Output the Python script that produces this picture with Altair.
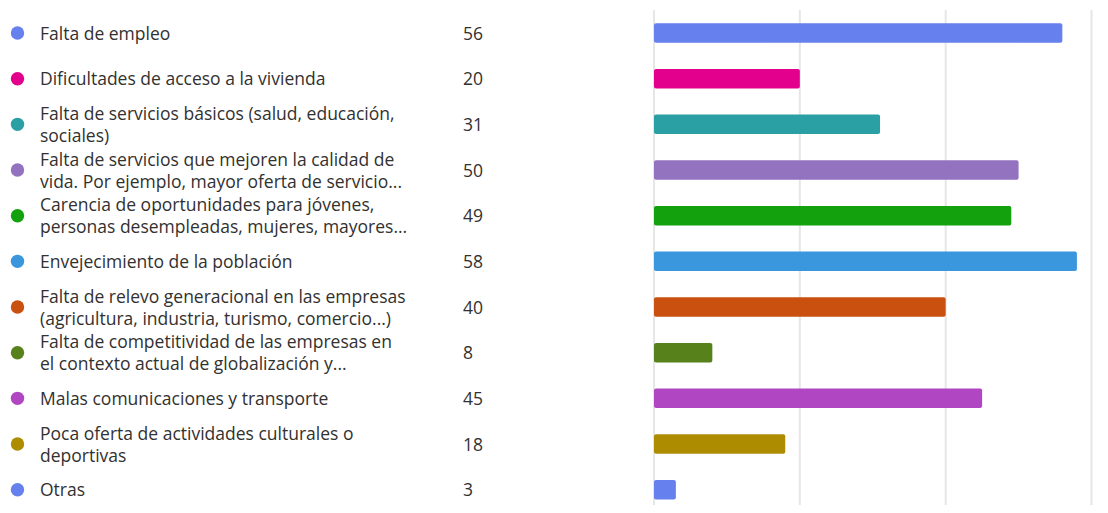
import altair as alt
import pandas as pd

labels = [
    "Falta de empleo",
    "Dificultades de acceso a la vivienda",
    "Falta de servicios básicos (salud, educación,\nsociales)",
    "Falta de servicios que mejoren la calidad de\nvida. Por ejemplo, mayor oferta de servicio...",
    "Carencia de oportunidades para jóvenes,\npersonas desempleadas, mujeres, mayores...",
    "Envejecimiento de la población",
    "Falta de relevo generacional en las empresas\n(agricultura, industria, turismo, comercio...)",
    "Falta de competitividad de las empresas en\nel contexto actual de globalización y...",
    "Malas comunicaciones y transporte",
    "Poca oferta de actividades culturales o\ndeportivas",
    "Otras",
]
counts = [56, 20, 31, 50, 49, 58, 40, 8, 45, 18, 3]
colors = [
    "#6680ee", "#e3008c", "#2aa0a4", "#9373c0", "#13a10e", "#3a96dd",
    "#ca5010", "#57811b", "#b146c2", "#ae8c00", "#6680ee",
]
grid_values = [0, 20, 40, 60]

df = pd.DataFrame({
    "idx": list(range(len(labels))),
    "label": labels,
    "count": counts,
    "color": colors,
})
grid_df = pd.DataFrame({"g": grid_values})

W, H = 1090, 495
xscale = alt.Scale(domain=[0, 60], range=[646, 1083.5], padding=0)
yscale = alt.Scale(domain=[0, 10], range=[23, 479.7], padding=0)
FONT = "Open Sans"
FS = 17.5
TXT = "#323130"
DY = 1.5

base = alt.Chart(df)

grid = alt.Chart(grid_df).mark_rule(color="#e6e6e6", strokeWidth=2).encode(
    x=alt.X("g:Q", scale=xscale, axis=None),
    y=alt.value(0),
    y2=alt.value(H),
)

bars = base.mark_bar(orient="horizontal", size=19.5, cornerRadius=2).encode(
    x=alt.X("count:Q", scale=xscale, axis=None, stack=None),
    y=alt.Y("idx:Q", scale=yscale, axis=None),
    color=alt.Color("color:N", scale=None),
)

dots = base.mark_circle(size=180, opacity=1).encode(
    x=alt.value(9.5),
    y=alt.Y("idx:Q", scale=yscale, axis=None),
    color=alt.Color("color:N", scale=None),
)

names_single = base.transform_filter(
    "indexof(datum.label, '\\n') < 0"
).mark_text(
    align="left", baseline="middle", dy=DY, fontSize=FS, font=FONT, color=TXT,
).encode(
    x=alt.value(32),
    y=alt.Y("idx:Q", scale=yscale, axis=None),
    text="label:N",
)

names_multi = base.transform_filter(
    "indexof(datum.label, '\\n') >= 0"
).mark_text(
    align="left", baseline="middle", lineBreak="\n", lineHeight=22, dy=-11 + DY,
    fontSize=FS, font=FONT, color=TXT,
).encode(
    x=alt.value(32),
    y=alt.Y("idx:Q", scale=yscale, axis=None),
    text="label:N",
)

nums = base.mark_text(
    align="left", baseline="middle", dy=DY, fontSize=FS, font=FONT, color=TXT,
).encode(
    x=alt.value(455),
    y=alt.Y("idx:Q", scale=yscale, axis=None),
    text="count:Q",
)

chart = alt.layer(grid, bars, dots, names_single, names_multi, nums).properties(
    width=W, height=H,
    padding={"top": 2, "left": 0, "right": 0, "bottom": 0},
    autosize=alt.AutoSizeParams(type="none"),
).configure_view(stroke=None)

chart.save("out.html", embed_options={"renderer": "svg", "actions": False})
